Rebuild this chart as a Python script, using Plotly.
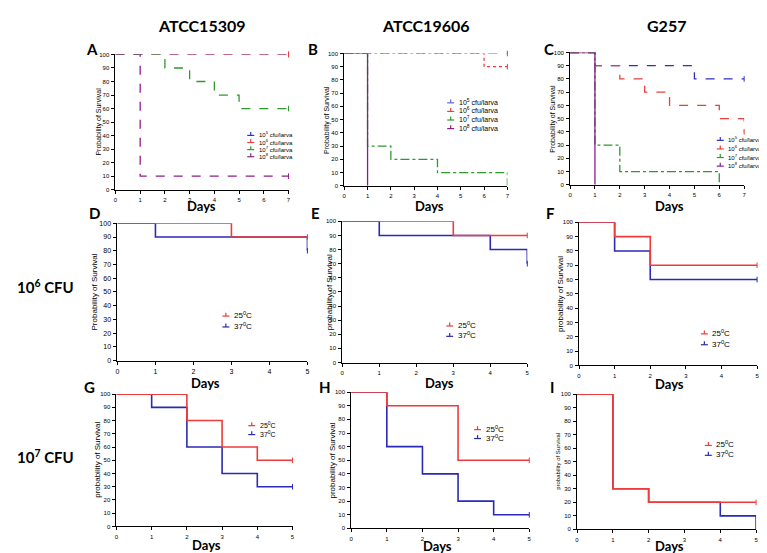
import plotly.graph_objects as go

W, H = 767, 553

# ---------------- data ----------------
col_titles = ["ATCC15309", "ATCC19606", "G257"]
row_labels = ["10<sup>6</sup> CFU", "10<sup>7</sup> CFU"]
panel_letters = ["A", "B", "C", "D", "E", "F", "G", "H", "I"]
dose_labels = ["10<sup>5</sup> cfu/larva", "10<sup>6</sup> cfu/larva",
               "10<sup>7</sup> cfu/larva", "10<sup>8</sup> cfu/larva"]
temp_labels = ["25<sup>0</sup>C", "37<sup>0</sup>C"]
dose_day_ticks = [0, 1, 2, 3, 4, 5, 6, 7]
temp_day_ticks = [0, 1, 2, 3, 4, 5]
surv_ticks = [0, 10, 20, 30, 40, 50, 60, 70, 80, 90, 100]

# Panel A (ATCC15309, doses)
A_1e5_days = [0, 7];                 A_1e5_surv = [100, 100]
A_1e6_days = [0, 7];                 A_1e6_surv = [100, 100]
A_1e7_days = [0, 2, 3, 4, 5, 7];     A_1e7_surv = [100, 90, 80, 70, 60, 60]
A_1e8_days = [0, 1, 7];              A_1e8_surv = [100, 10, 10]
# Panel B (ATCC19606, doses)
B_1e5_days = [0, 7];                 B_1e5_surv = [100, 100]
B_1e6_days = [0, 6, 7];              B_1e6_surv = [100, 90, 90]
B_1e7_days = [0, 1, 2, 4, 7];        B_1e7_surv = [100, 30, 20, 10, 0]
B_1e8_days = [0, 1];                 B_1e8_surv = [100, 0]
# Panel C (G257, doses)
C_1e5_days = [0, 1, 5, 7];           C_1e5_surv = [100, 90, 80, 80]
C_1e6_days = [0, 1, 2, 3, 4, 6, 7];  C_1e6_surv = [100, 90, 80, 70, 60, 50, 40]
C_1e7_days = [0, 1, 2, 6];           C_1e7_surv = [100, 30, 10, 0]
C_1e8_days = [0, 1];                 C_1e8_surv = [100, 0]
# Panels D-F (10^6 CFU, temperatures)
D_25_days = [0, 3, 5];               D_25_surv = [100, 90, 90]
D_37_days = [0, 1, 5];               D_37_surv = [100, 90, 80]
E_25_days = [0, 3, 5];               E_25_surv = [100, 90, 90]
E_37_days = [0, 1, 4, 5];            E_37_surv = [100, 90, 80, 70]
F_25_days = [0, 1, 2, 5];            F_25_surv = [100, 90, 70, 70]
F_37_days = [0, 1, 2, 5];            F_37_surv = [100, 80, 60, 60]
# Panels G-I (10^7 CFU, temperatures)
G_25_days = [0, 2, 3, 4, 5];         G_25_surv = [100, 80, 60, 50, 50]
G_37_days = [0, 1, 2, 3, 4, 5];      G_37_surv = [100, 90, 60, 40, 30, 30]
H_25_days = [0, 1, 3, 5];            H_25_surv = [100, 90, 50, 50]
H_37_days = [0, 1, 2, 3, 4, 5];      H_37_surv = [100, 60, 40, 20, 10, 10]
I_25_days = [0, 1, 2, 5];            I_25_surv = [100, 30, 20, 20]
I_37_days = [0, 1, 2, 4, 5];         I_37_surv = [100, 30, 20, 10, 0]

# ---------------- styles / layout ----------------
BLUE = "#2f2fc8"
LBLUE = "#6464dc"
RED = "#e8403c"
GREEN = "#2e9a2e"
PURPLE = "#8c1c8c"
TRED = "#ee3b3b"
TBLUE = "#2a2ab4"

def px(x):
    return x / W

def py(y):
    return 1 - y / H

panels = [
    dict(box=(106, 43, 280, 180), xmax=7, ticks=dose_day_ticks, tf=6,
         series=[(A_1e5_days, A_1e5_surv, BLUE, "dash"), (A_1e6_days, A_1e6_surv, RED, "dash"),
                 (A_1e7_days, A_1e7_surv, GREEN, "dash"), (A_1e8_days, A_1e8_surv, PURPLE, "dash")],
         legend=dict(labels=dose_labels, colors=[BLUE, RED, GREEN, PURPLE], x=242, y0=124, dy=7.2, size=6),
         ylab=("Probability of Survival", 90, 7), letter=(82, 37), days=(193, 196)),
    dict(box=(336, 42, 500, 176), xmax=7, ticks=dose_day_ticks, tf=6,
         series=[(B_1e5_days, B_1e5_surv, LBLUE, "dash"), (B_1e6_days, B_1e6_surv, RED, "dot"),
                 (B_1e7_days, B_1e7_surv, GREEN, "dashdot"), (B_1e8_days, B_1e8_surv, PURPLE, "solid")],
         legend=dict(labels=dose_labels, colors=[LBLUE, RED, GREEN, PURPLE], x=443, y0=91, dy=8.7, size=7),
         ylab=("Probability of Survival", 318, 7), letter=(305, 37), days=(422, 196)),
    dict(box=(563, 41, 738, 175), xmax=7, ticks=dose_day_ticks, tf=6,
         series=[(C_1e5_days, C_1e5_surv, BLUE, "dash"), (C_1e6_days, C_1e6_surv, RED, "dash"),
                 (C_1e7_days, C_1e7_surv, GREEN, "dashdot"), (C_1e8_days, C_1e8_surv, PURPLE, "solid")],
         legend=dict(labels=dose_labels, colors=[BLUE, RED, GREEN, PURPLE], x=714, y0=129, dy=8.7, size=6),
         ylab=("Probability of Survival", 545, 7), letter=(542, 37), days=(663, 196)),
    dict(box=(108, 214, 299, 353), xmax=5, ticks=temp_day_ticks, tf=7,
         series=[(D_37_days, D_37_surv, TBLUE, "solid"), (D_25_days, D_25_surv, TRED, "solid")],
         legend=dict(labels=temp_labels, colors=[TRED, TBLUE], x=217, y0=307, dy=11, size=8),
         ylab=("Probability of Survival", 85, 8), letter=(85, 204), days=(197, 376)),
    dict(box=(334, 212, 520, 355), xmax=5, ticks=temp_day_ticks, tf=6,
         series=[(E_37_days, E_37_surv, TBLUE, "solid"), (E_25_days, E_25_surv, TRED, "solid")],
         legend=dict(labels=temp_labels, colors=[TRED, TBLUE], x=442, y0=317, dy=10.5, size=8),
         ylab=("probability of Survival", 322, 8), letter=(307, 204), days=(432, 376)),
    dict(box=(572, 213, 751, 358), xmax=5, ticks=temp_day_ticks, tf=6,
         series=[(F_37_days, F_37_surv, TBLUE, "solid"), (F_25_days, F_25_surv, TRED, "solid")],
         legend=dict(labels=temp_labels, colors=[TRED, TBLUE], x=698, y0=325, dy=11, size=8),
         ylab=("probability of Survival", 554, 8), letter=(543, 204), days=(663, 377)),
    dict(box=(107, 387, 284, 521), xmax=5, ticks=temp_day_ticks, tf=6,
         series=[(G_37_days, G_37_surv, TBLUE, "solid"), (G_25_days, G_25_surv, TRED, "solid")],
         legend=dict(labels=temp_labels, colors=[TRED, TBLUE], x=243, y0=418, dy=9, size=7),
         ylab=("probability of Survival", 88, 8), letter=(80, 380), days=(198, 540)),
    dict(box=(343, 385, 522, 523), xmax=5, ticks=temp_day_ticks, tf=6,
         series=[(H_37_days, H_37_surv, TBLUE, "solid"), (H_25_days, H_25_surv, TRED, "solid")],
         legend=dict(labels=temp_labels, colors=[TRED, TBLUE], x=470, y0=422, dy=9, size=8),
         ylab=("probability of Survival", 324, 8), letter=(317, 380), days=(430, 541)),
    dict(box=(570, 387, 750, 524), xmax=5, ticks=temp_day_ticks, tf=6,
         series=[(I_37_days, I_37_surv, TBLUE, "solid"), (I_25_days, I_25_surv, TRED, "solid")],
         legend=dict(labels=temp_labels, colors=[TRED, TBLUE], x=702, y0=438, dy=10, size=8),
         ylab=("probability of Survival", 551, 6), letter=(545, 380), days=(663, 541)),
]

fig = go.Figure()
annotations = []
shapes = []
TFONT = "Liberation Sans, Arial, sans-serif"
BFONT = "Lato, Open Sans, sans-serif"

for i, p in enumerate(panels):
    n = "" if i == 0 else str(i + 1)
    xa, ya = "x" + n, "y" + n
    x0, y0, x1, y1 = p["box"]
    lw = 1.3 if i < 3 else 1.6
    for days, surv, color, dash in p["series"]:
        fig.add_trace(go.Scatter(x=days, y=surv, xaxis=xa, yaxis=ya, mode="lines",
                                 line=dict(color=color, width=lw, dash=dash, shape="hv"),
                                 showlegend=False, cliponaxis=False, hoverinfo="skip"))
        if surv[-1] > 0:
            fig.add_trace(go.Scatter(x=[days[-1]], y=[surv[-1]], xaxis=xa, yaxis=ya, mode="markers",
                                     marker=dict(symbol="line-ns", size=4, line=dict(color=color, width=1)),
                                     showlegend=False, cliponaxis=False, hoverinfo="skip"))
    axcommon = dict(showline=True, linecolor="black", linewidth=1, ticks="outside", ticklen=3,
                    tickwidth=1, tickcolor="black", showgrid=False, zeroline=False,
                    tickfont=dict(size=p["tf"], family=TFONT, color="black"), fixedrange=True)
    fig.layout["xaxis" + n] = dict(domain=[px(x0), px(x1)], range=[0, p["xmax"]], tickvals=p["ticks"],
                                   anchor=ya, ticklabelstandoff=1, **axcommon)
    fig.layout["yaxis" + n] = dict(domain=[py(y1), py(y0)], range=[0, 100], tickvals=surv_ticks,
                                   anchor=xa, ticklabelstandoff=1, **axcommon)
    # y axis title
    t, tx, ts = p["ylab"]
    annotations.append(dict(text=t, x=px(tx), y=py((y0 + y1) / 2), xref="paper", yref="paper",
                            textangle=-90, showarrow=False, xanchor="center", yanchor="middle",
                            font=dict(size=ts, family=TFONT, color="black")))
    # panel letter
    lx, ly = p["letter"]
    annotations.append(dict(text="<b>%s</b>" % panel_letters[i], x=px(lx), y=py(ly), xref="paper",
                            yref="paper", showarrow=False, xanchor="center", yanchor="middle",
                            font=dict(size=15, family=BFONT, color="black")))
    # Days label
    dx, dy = p["days"]
    annotations.append(dict(text="<b>Days</b>", x=px(dx), y=py(dy), xref="paper", yref="paper",
                            showarrow=False, xanchor="center", yanchor="middle",
                            font=dict(size=13, family=BFONT, color="black")))
    # legend
    lg = p["legend"]
    for k, (lab, col) in enumerate(zip(lg["labels"], lg["colors"])):
        yy = lg["y0"] + k * lg["dy"]
        mx = lg["x"]
        shapes.append(dict(type="line", xref="paper", yref="paper", x0=px(mx - 3.5), x1=px(mx + 3.5),
                           y0=py(yy + 1), y1=py(yy + 1), line=dict(color=col, width=1.2)))
        shapes.append(dict(type="line", xref="paper", yref="paper", x0=px(mx), x1=px(mx),
                           y0=py(yy + 1), y1=py(yy - 2.5), line=dict(color=col, width=1.2)))
        annotations.append(dict(text=lab, x=px(mx + 6), y=py(yy), xref="paper", yref="paper",
                                showarrow=False, xanchor="left", yanchor="middle",
                                font=dict(size=lg["size"], family=TFONT, color="black")))

# column titles
for t, cx in zip(col_titles, [193, 418, 660]):
    annotations.append(dict(text="<b>%s</b>" % t, x=px(cx), y=py(14), xref="paper", yref="paper",
                            showarrow=False, xanchor="center", yanchor="middle",
                            font=dict(size=16, family=BFONT, color="black")))
# row labels
for t, cy in zip(row_labels, [278, 450]):
    annotations.append(dict(text="<b>%s</b>" % t, x=px(36), y=py(cy), xref="paper", yref="paper",
                            showarrow=False, xanchor="center", yanchor="middle",
                            font=dict(size=15, family=BFONT, color="black")))

fig.update_layout(width=W, height=H, margin=dict(l=0, r=0, t=0, b=0),
                  paper_bgcolor="white", plot_bgcolor="white",
                  annotations=annotations, shapes=shapes, showlegend=False)

fig.write_html("out.html")
